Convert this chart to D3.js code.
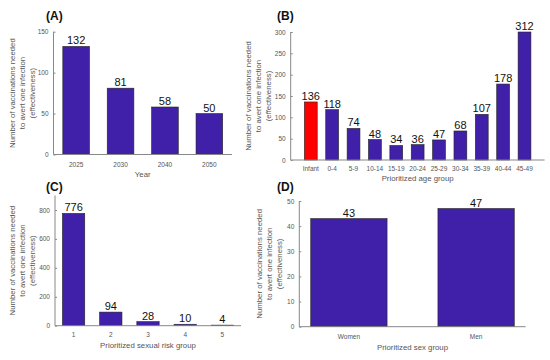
<!DOCTYPE html>
<html>
<head>
<meta charset="utf-8">
<script src="https://cdn.jsdelivr.net/npm/d3@7"></script>
<style>
  body { margin: 0; background: #fff; }
  svg { font-family: "Liberation Sans", Arial, sans-serif; }
</style>
</head>
<body>
<svg id="chart" width="550" height="360"></svg>
<script>
// panel A
const yearCats = ["2025", "2030", "2040", "2050"];
const yearVals = [132, 81, 58, 50];
// panel B
const ageCats = ["Infant", "0-4", "5-9", "10-14", "15-19", "20-24", "25-29", "30-34", "35-39", "40-44", "45-49"];
const ageVals = [136, 118, 74, 48, 34, 36, 47, 68, 107, 178, 312];
// panel C
const riskCats = ["1", "2", "3", "4", "5"];
const riskVals = [776, 94, 28, 10, 4];
// panel D
const sexCats = ["Women", "Men"];
const sexVals = [43, 47];

const yLabelLines = ["Number of vaccinations needed", "to avert one infection", "(effectiveness)"];

const svg = d3.select("#chart");
const barFill = "#4020a8";

function panel({ title, cats, vals, x0, x1, y0, y1, yMax, ticks, outer, xLabel,
                 labelX, titleX, titleY, tickY, xLabelY, highlight }) {
  const g = svg.append("g");
  const x = d3.scaleBand().domain(cats).range([x0, x1]).paddingInner(0.4).paddingOuter(outer);
  const y = d3.scaleLinear().domain([0, yMax]).range([y0, y1]);

  // bars (clipped at axis top like the original)
  g.selectAll("rect.bar")
    .data(cats)
    .join("rect")
    .attr("class", "bar")
    .attr("x", d => x(d))
    .attr("width", x.bandwidth())
    .attr("y", (d, i) => y(Math.min(vals[i], yMax)))
    .attr("height", (d, i) => y0 - y(Math.min(vals[i], yMax)))
    .attr("fill", d => d === highlight ? "#ff0000" : barFill)
    .attr("stroke", "#222")
    .attr("stroke-width", 0.6);

  // value labels
  g.selectAll("text.val")
    .data(cats)
    .join("text")
    .attr("class", "val")
    .attr("x", d => x(d) + x.bandwidth() / 2)
    .attr("y", (d, i) => y(Math.min(vals[i], yMax)) - 2)
    .attr("text-anchor", "middle")
    .attr("font-size", 11)
    .attr("fill", "#111")
    .text((d, i) => vals[i]);

  // y axis
  const ya = g.append("g")
    .attr("transform", `translate(${x0},0)`)
    .call(d3.axisLeft(y).tickValues(ticks).tickSizeInner(-2).tickSizeOuter(0).tickPadding(5));
  ya.select(".domain").attr("stroke", "#888").attr("d", `M0,${y0}V${y1}`);
  ya.selectAll(".tick line").attr("stroke", "#888");
  ya.selectAll(".tick text").attr("font-size", 6.5).attr("fill", "#555").attr("font-family", null);

  // x axis
  g.append("line")
    .attr("x1", x0).attr("x2", x1).attr("y1", y0).attr("y2", y0)
    .attr("stroke", "#888");
  g.selectAll("text.xt")
    .data(cats)
    .join("text")
    .attr("class", "xt")
    .attr("x", d => x(d) + x.bandwidth() / 2)
    .attr("y", tickY)
    .attr("text-anchor", "middle")
    .attr("font-size", 6.5)
    .attr("fill", "#555")
    .text(d => d);

  g.append("text")
    .attr("x", (x0 + x1) / 2)
    .attr("y", xLabelY)
    .attr("text-anchor", "middle")
    .attr("font-size", 7.8)
    .attr("fill", "#555")
    .text(xLabel);

  // y label (three lines)
  const yc = (y0 + y1) / 2;
  yLabelLines.forEach((t, i) => {
    g.append("text")
      .attr("transform", `translate(${labelX + i * 10},${yc}) rotate(-90)`)
      .attr("text-anchor", "middle")
      .attr("dy", "0.35em")
      .attr("font-size", 7.8)
      .attr("fill", "#555")
      .text(t);
  });

  g.append("text")
    .attr("x", titleX)
    .attr("y", titleY)
    .attr("font-size", 12)
    .attr("font-weight", "bold")
    .attr("fill", "#111")
    .text(title);
}

panel({ title: "(A)", cats: yearCats, vals: yearVals, x0: 53.5, x1: 232, y0: 154.5, y1: 31.7,
        yMax: 150, ticks: [0, 50, 100, 150], outer: 0.21, xLabel: "Year",
        labelX: 12.5, titleX: 46, titleY: 20, tickY: 167, xLabelY: 177 });

panel({ title: "(B)", cats: ageCats, vals: ageVals, x0: 290.7, x1: 544.6, y0: 160, y1: 32,
        yMax: 300, ticks: [0, 50, 100, 150, 200, 250, 300], outer: 0.64, xLabel: "Prioritized age group",
        labelX: 248, titleX: 277, titleY: 20, tickY: 171, xLabelY: 181, highlight: "Infant" });

panel({ title: "(C)", cats: riskCats, vals: riskVals, x0: 55, x1: 241, y0: 325.7, y1: 195.5,
        yMax: 900, ticks: [0, 200, 400, 600, 800], outer: 0.2, xLabel: "Prioritized sexual risk group",
        labelX: 12.7, titleX: 46, titleY: 191, tickY: 337, xLabelY: 348 });

panel({ title: "(D)", cats: sexCats, vals: sexVals, x0: 299.3, x1: 525.7, y0: 326.7, y1: 201,
        yMax: 50, ticks: [0, 10, 20, 30, 40, 50], outer: 0.09, xLabel: "Prioritized sex group",
        labelX: 259, titleX: 277, titleY: 191, tickY: 338.5, xLabelY: 349.5 });
</script>
</body>
</html>
